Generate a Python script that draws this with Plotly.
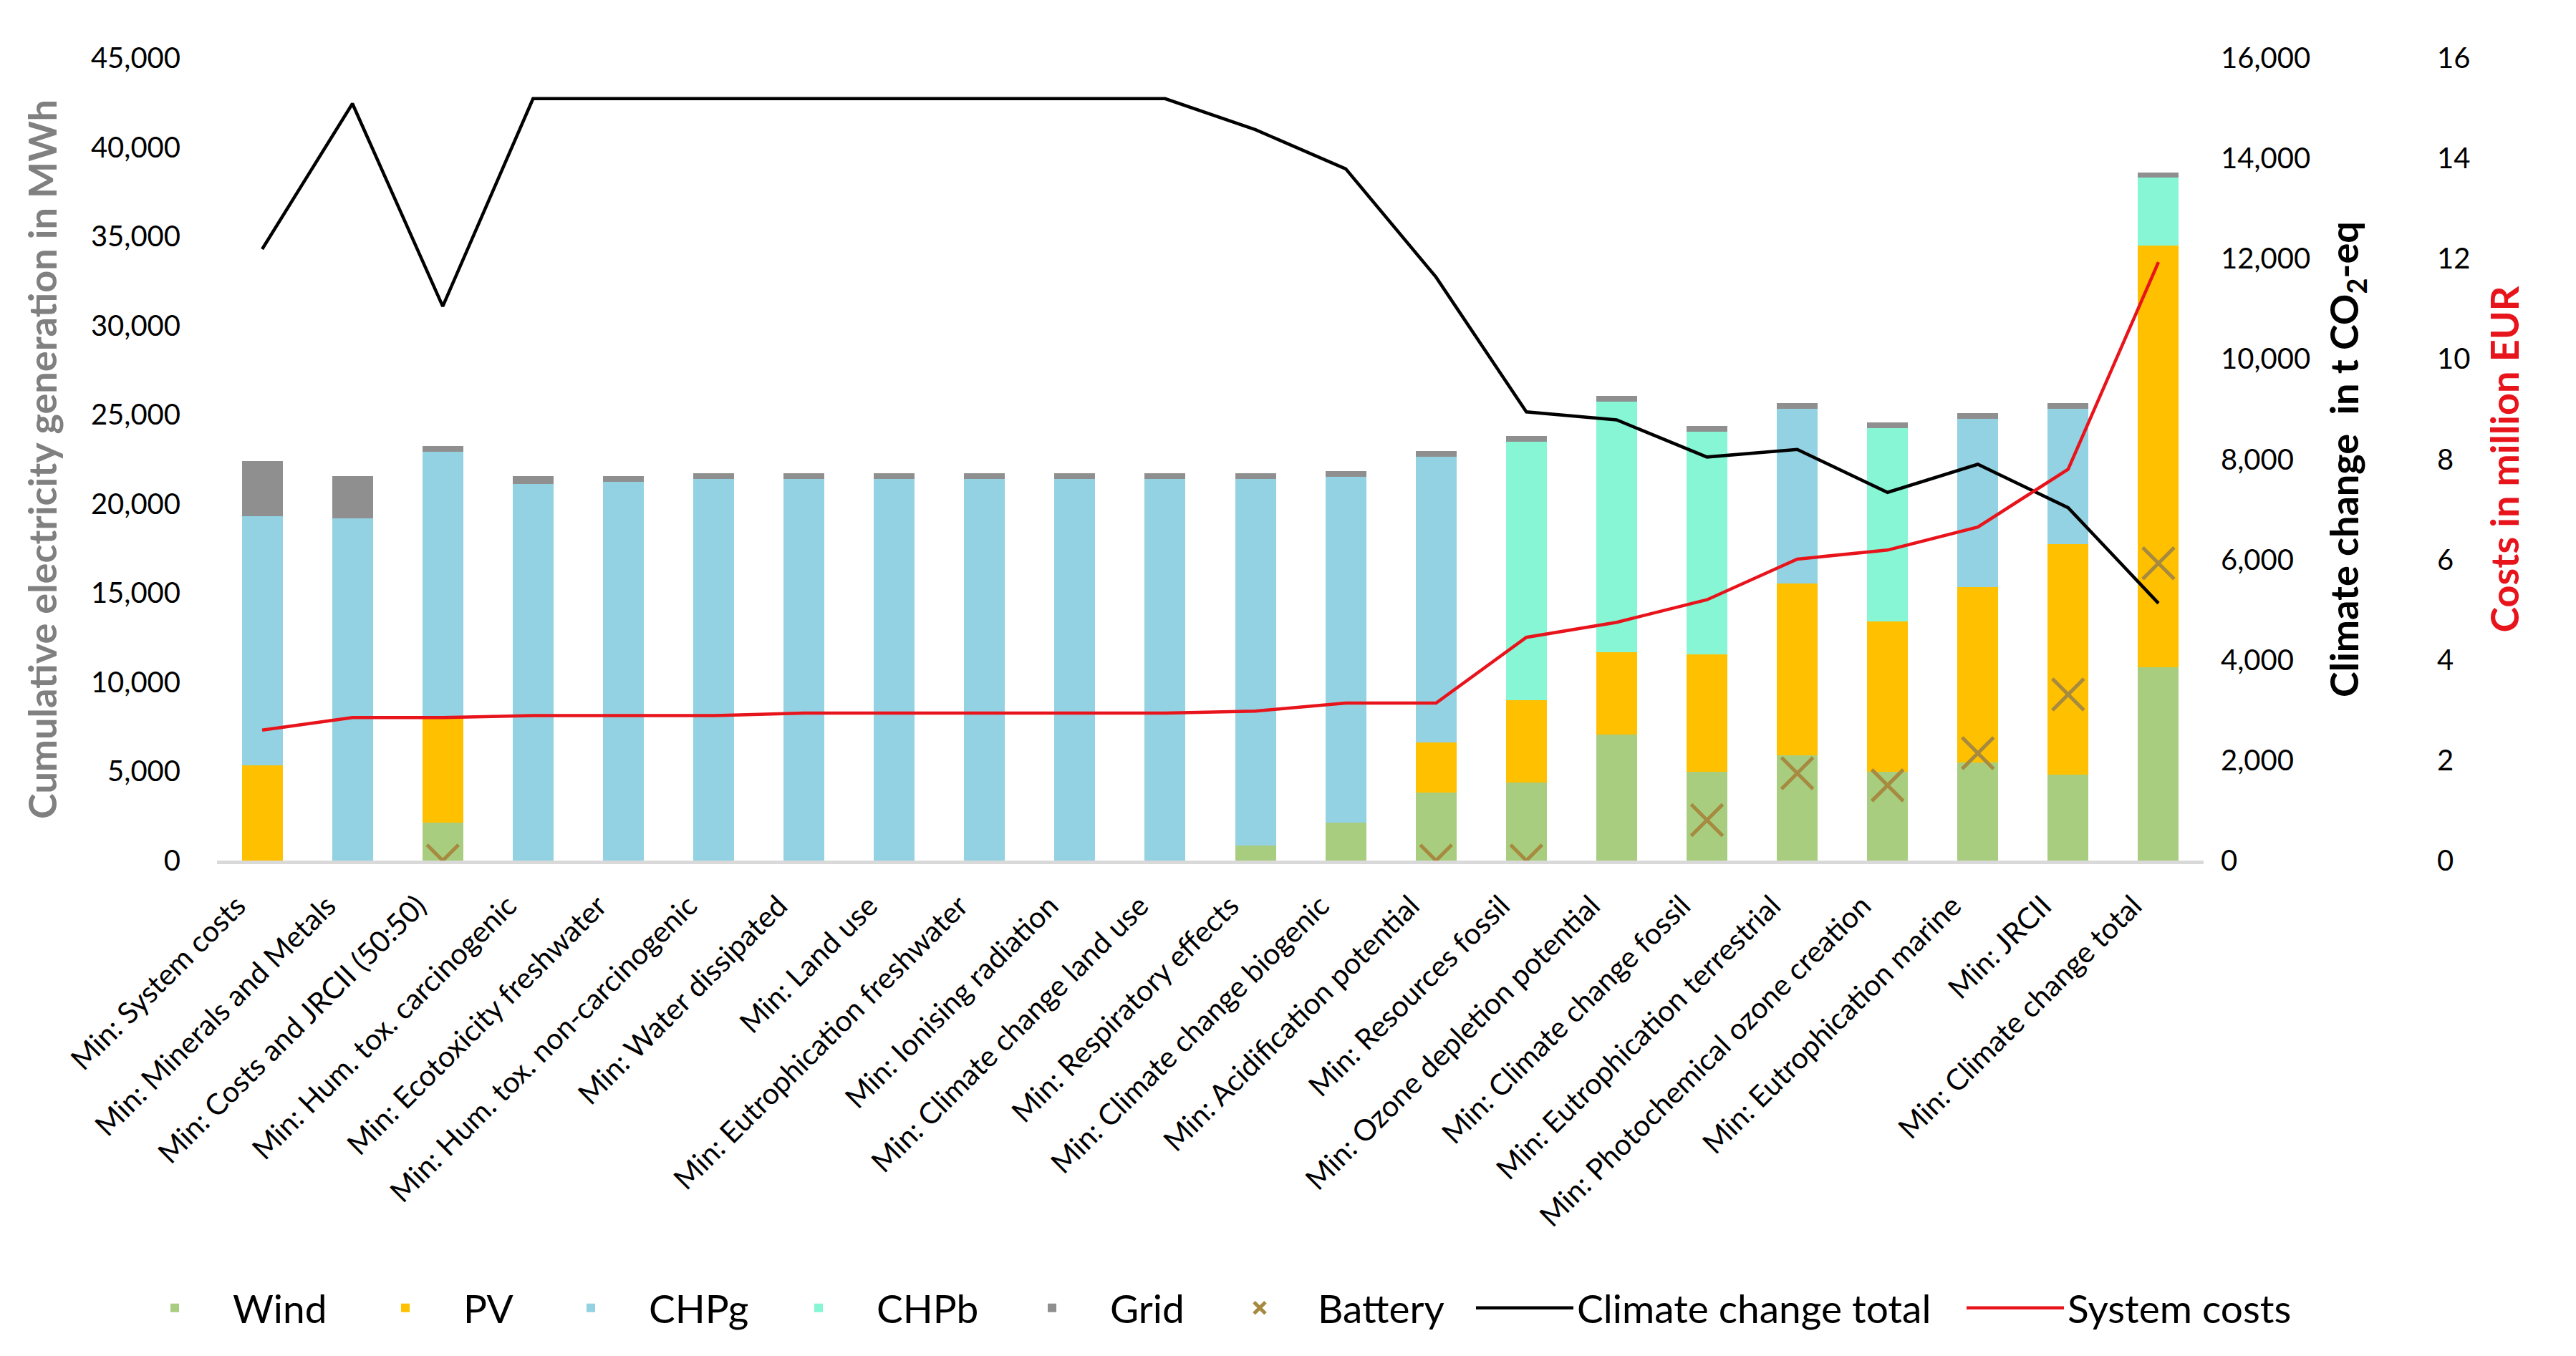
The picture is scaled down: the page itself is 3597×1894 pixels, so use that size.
import plotly.graph_objects as go

categories = [
    "Min: System costs", "Min: Minerals and Metals", "Min: Costs and JRCII (50:50)",
    "Min: Hum. tox. carcinogenic", "Min: Ecotoxicity freshwater",
    "Min: Hum. tox. non-carcinogenic", "Min: Water dissipated", "Min: Land use",
    "Min: Eutrophication freshwater", "Min: Ionising radiation",
    "Min: Climate change land use", "Min: Respiratory effects",
    "Min: Climate change biogenic", "Min: Acidification potential",
    "Min: Resources fossil", "Min: Ozone depletion potential",
    "Min: Climate change fossil", "Min: Eutrophication terrestrial",
    "Min: Photochemical ozone creation", "Min: Eutrophication marine",
    "Min: JRCII", "Min: Climate change total",
]

wind = [0, 0, 2140, 0, 0, 0, 0, 0, 0, 0, 0, 860, 2140, 3810, 4380, 7070,
        4960, 5920, 4960, 5500, 4830, 10850]
pv = [5340, 0, 5860, 0, 0, 0, 0, 0, 0, 0, 0, 0, 0, 2820, 4610, 4610,
      6590, 9600, 8450, 9830, 12930, 23620]
chpg = [13950, 19170, 14940, 21120, 21250, 21400, 21400, 21400, 21400, 21400,
        21400, 20540, 19390, 16030, 0, 0, 0, 9820, 0, 9440, 7580, 0]
chpb = [0, 0, 0, 0, 0, 0, 0, 0, 0, 0, 0, 0, 0, 0, 14500, 14050,
        12510, 0, 10820, 0, 0, 3810]
grid = [3100, 2400, 320, 450, 320, 320, 320, 320, 320, 320, 320, 320, 320,
        320, 320, 320, 320, 320, 320, 320, 320, 290]
battery = [None, None, 0, None, None, None, None, None, None, None, None,
           None, None, 0, 0, None, 2270, 4900, 4220, 6020, 9310, 16670]
climate_total = [12190, 15090, 11050, 15190, 15190, 15190, 15190, 15190,
                 15190, 15190, 15190, 14570, 13790, 11630, 8945, 8785,
                 8045, 8195, 7340, 7900, 7035, 5130]
system_costs = [2.60, 2.85, 2.85, 2.89, 2.89, 2.89, 2.94, 2.94, 2.94, 2.94,
                2.94, 2.98, 3.14, 3.14, 4.45, 4.75, 5.20, 6.01, 6.19, 6.65,
                7.80, 11.93]

FONT = "Lato"
W, H = 3597, 1894
ML, MR, MT, MB = 295, 40, 73, 700
plot_w = W - ML - MR
plot_h = H - MT - MB
xdom_end = (3069 - ML) / plot_w
y3_pos = (3376 - ML) / plot_w

def px_x(px):
    return (px - ML) / plot_w

def px_y(py):
    return (H - MB - py) / plot_h

# legend entry left positions (pixels) for each series, one legend box each
leg_left = {"Wind": 155, "PV": 477, "CHPg": 736, "CHPb": 1054, "Grid": 1380,
            "Battery": 1670, "Climate change total": 2048, "System costs": 2733}
leg_ids = {}
for i, name in enumerate(leg_left):
    leg_ids[name] = "legend" if i == 0 else f"legend{i + 1}"

fig = go.Figure()
stack = [("Wind", wind, "#A9CD7F"), ("PV", pv, "#FFC000"),
         ("CHPg", chpg, "#93D2E2"), ("CHPb", chpb, "#86F6D4"),
         ("Grid", grid, "#8F8F8F")]
for name, vals, col in stack:
    fig.add_trace(go.Bar(x=categories, y=vals, name=name, marker_color=col,
                         marker_line_width=0, yaxis="y", legend=leg_ids[name]))

fig.add_trace(go.Scatter(x=categories, y=battery, name="Battery", mode="markers",
                         marker=dict(symbol="x-thin", size=44,
                                     line=dict(width=5, color="#A68A3F"),
                                     color="#A68A3F"),
                         yaxis="y", legend=leg_ids["Battery"]))
fig.add_trace(go.Scatter(x=categories, y=climate_total, name="Climate change total",
                         mode="lines", line=dict(color="#000000", width=4.5),
                         yaxis="y2", legend=leg_ids["Climate change total"]))
fig.add_trace(go.Scatter(x=categories, y=system_costs, name="System costs",
                         mode="lines", line=dict(color="#E8141C", width=4.5),
                         yaxis="y3", legend=leg_ids["System costs"]))

tickfont = dict(family=FONT, size=40, color="#000000")
legfont = dict(family=FONT, size=55, color="#000000")

legends = {}
for name, left in leg_left.items():
    is_line = name in ("Climate change total", "System costs")
    legends[leg_ids[name]] = dict(
        orientation="h", x=px_x(left), xanchor="left",
        y=px_y(1819), yanchor="middle", font=legfont,
        itemwidth=136 if is_line else 152, bgcolor="rgba(0,0,0,0)")

fig.update_layout(
    width=W, height=H,
    margin=dict(l=ML, r=MR, t=MT, b=MB, autoexpand=False),
    paper_bgcolor="white", plot_bgcolor="white",
    barmode="stack", bargap=0.548,
    font=dict(family=FONT, size=40, color="#000000"),
    xaxis=dict(domain=[0, xdom_end], range=[-0.5, len(categories) - 0.5],
               tickangle=-45,
               tickfont=dict(family=FONT, size=41, color="#000000"),
               showline=True, linecolor="#D9D9D9", linewidth=5,
               showgrid=False, ticks="", ticklabelstandoff=18,
               ticklabelshift=-35),
    yaxis=dict(range=[0, 45000], dtick=5000, tickformat=",", showgrid=False,
               zeroline=False, showline=False, ticks="", tickfont=tickfont,
               ticklabelstandoff=50,
               title=dict(text="Cumulative electricity generation in MWh",
                          font=dict(family=FONT, size=54, color="#808080",
                                    weight="bold"),
                          standoff=30)),
    yaxis2=dict(range=[0, 16000], dtick=2000, tickformat=",", overlaying="y",
                side="right", anchor="x", showgrid=False, zeroline=False,
                showline=False, ticks="", tickfont=tickfont, ticklabelstandoff=23,
                title=dict(text="Climate change  in t CO<sub>2</sub>-eq",
                           font=dict(family=FONT, size=54, color="#000000",
                                     weight="bold"),
                           standoff=30)),
    yaxis3=dict(range=[0, 16], dtick=2, overlaying="y", side="right",
                anchor="free", position=y3_pos, showgrid=False, zeroline=False,
                showline=False, ticks="", tickfont=tickfont, ticklabelstandoff=18,
                title=dict(text="Costs in million EUR",
                           font=dict(family=FONT, size=54, color="#E8141C",
                                     weight="bold"),
                           standoff=30)),
    showlegend=True,
    **legends,
)

fig.write_html("out.html")
